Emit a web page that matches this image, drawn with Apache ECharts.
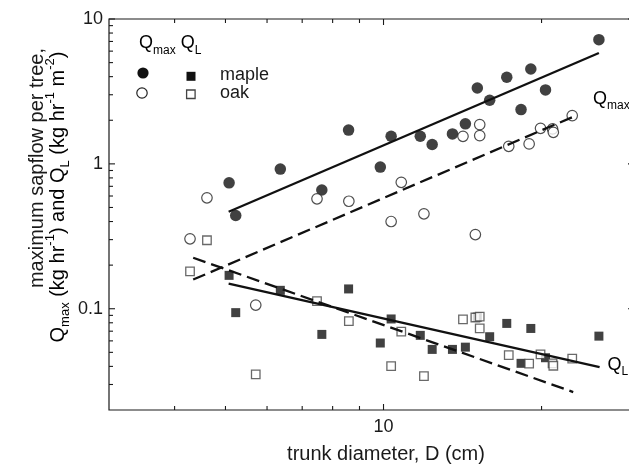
<!DOCTYPE html>
<html><head><meta charset="utf-8">
<script src="https://cdn.jsdelivr.net/npm/echarts@6/dist/echarts.min.js"></script>
<style>html,body{margin:0;padding:0;background:#fff}#c{width:629px;height:468px}</style>
</head><body><div id="c"></div>
<script>
// ---- data ----
const mapleD    = [5.08, 5.23, 6.36, 7.63, 8.58, 9.86, 10.34, 11.75, 12.38, 13.53, 14.32, 15.09, 15.93, 17.17, 18.28, 19.08, 20.35, 25.72];
const mapleQmax = [0.74, 0.44, 0.92, 0.66, 1.71, 0.95, 1.55, 1.55, 1.36, 1.61, 1.89, 3.34, 2.75, 3.96, 2.37, 4.52, 3.24, 7.2];
const mapleQL   = [0.170, 0.094, 0.134, 0.0665, 0.137, 0.058, 0.085, 0.0655, 0.0524, 0.0524, 0.0543, 0.0875, 0.0641, 0.0792, 0.042, 0.0731, 0.0459, 0.0647];
const oakD      = [4.28, 4.61, 5.71, 7.47, 8.59, 10.34, 10.81, 11.94, 14.17, 14.96, 15.25, 15.25, 17.32, 18.94, 19.91, 20.99, 21.06, 22.88];
const oakQmax   = [0.304, 0.583, 0.106, 0.574, 0.552, 0.40, 0.746, 0.452, 1.55, 0.325, 1.866, 1.567, 1.322, 1.374, 1.76, 1.743, 1.652, 2.153];
const oakQL     = [0.181, 0.297, 0.0352, 0.1128, 0.0821, 0.0402, 0.0694, 0.0343, 0.0844, 0.087, 0.0881, 0.0731, 0.0479, 0.0418, 0.0484, 0.042, 0.0404, 0.0452];
// regression line end points [D, Q]
const mapleQmaxFit = [[5.07, 0.467], [25.72, 5.83]];
const oakQmaxFit   = [[4.34, 0.159], [22.88, 2.1]];
const mapleQLFit   = [[5.07, 0.149], [25.8, 0.0396]];
const oakQLFit     = [[4.34, 0.225], [22.98, 0.0266]];
// axes
const xRange = [3, 30];
const yRange = [0.02, 10];
const xLabelValues = [10];
const yLabelValues = [0.1, 1, 10];
const xMajorTicks = [10];
const xMinorTicks = [4, 5, 6, 7, 8, 9, 20];
const yMajorTicks = [0.1, 1, 10];
const yMinorTicks = [0.03, 0.04, 0.05, 0.06, 0.07, 0.08, 0.09, 0.2, 0.3, 0.4, 0.5, 0.6, 0.7, 0.8, 0.9, 2, 3, 4, 5, 6, 7, 8, 9];

const FONT = 'Liberation Sans, Arial, sans-serif';
const INK = '#1a1a1a';

function zip(a, b) { return a.map((v, i) => [v, b[i]]); }
function isIn(v, list) { return list.some(t => Math.abs(Math.log10(v) - Math.log10(t)) < 1e-6); }

// tick marks: [x, y, dir(0 up,1 down,2 right,3 left), length]
const tickData = [];
xMajorTicks.forEach(v => { tickData.push([v, yRange[0], 0, 6]); tickData.push([v, yRange[1], 1, 6]); });
xMinorTicks.forEach(v => { tickData.push([v, yRange[0], 0, 4]); tickData.push([v, yRange[1], 1, 4]); });
yMajorTicks.forEach(v => { tickData.push([xRange[0], v, 2, 6]); tickData.push([xRange[1], v, 3, 6]); });
yMinorTicks.forEach(v => { tickData.push([xRange[0], v, 2, 4]); tickData.push([xRange[1], v, 3, 4]); });

const chart = echarts.init(document.getElementById('c'), null, { renderer: 'canvas' });

const subRich = {
  q: { fontSize: 18, fontFamily: FONT, color: INK, lineHeight: 26 },
  s: { fontSize: 12, fontFamily: FONT, color: INK, lineHeight: 12, verticalAlign: 'bottom' }
};
const titleRich = {
  b: { fontSize: 20, fontFamily: FONT, color: INK, lineHeight: 28 },
  sub: { fontSize: 13, fontFamily: FONT, color: INK, lineHeight: 13, verticalAlign: 'bottom' },
  sup: { fontSize: 13, fontFamily: FONT, color: INK, lineHeight: 13, verticalAlign: 'top' }
};

const option = {
  backgroundColor: '#fff',
  animation: false,
  grid: { left: 109, top: 19, right: -5, bottom: 58, show: true, borderColor: INK, borderWidth: 1.2, backgroundColor: 'transparent', outerBoundsMode: 'none', containLabel: false },
  xAxis: {
    type: 'log', logBase: 10, min: xRange[0], max: xRange[1],
    axisLine: { show: false }, axisTick: { show: false }, splitLine: { show: false }, minorTick: { show: false },
    axisLabel: { fontSize: 18, fontFamily: FONT, color: INK, margin: 8, formatter: v => isIn(v, xLabelValues) ? String(Math.round(v)) : '' },
    name: 'trunk diameter, D (cm)', nameLocation: 'middle', nameGap: 34,
    nameTextStyle: { fontSize: 20, fontFamily: FONT, color: INK, padding: [0, 0, 0, 29] }
  },
  yAxis: {
    type: 'log', logBase: 10, min: yRange[0], max: yRange[1],
    axisLine: { show: false }, axisTick: { show: false }, splitLine: { show: false }, minorTick: { show: false },
    axisLabel: { fontSize: 18, fontFamily: FONT, color: INK, margin: 6, formatter: v => isIn(v, yLabelValues) ? String(+v.toPrecision(3)) : '' }
  },
  series: [
    { name: 'maple Qmax', type: 'scatter', data: zip(mapleD, mapleQmax), symbol: 'circle', symbolSize: 11.5, itemStyle: { color: '#111' }, z: 3 },
    { name: 'oak Qmax', type: 'scatter', data: zip(oakD, oakQmax), symbol: 'circle', symbolSize: 10.5, itemStyle: { color: '#fff', borderColor: '#222', borderWidth: 1.2 }, z: 3 },
    { name: 'maple QL', type: 'scatter', data: zip(mapleD, mapleQL), symbol: 'rect', symbolSize: 9, itemStyle: { color: '#111' }, z: 3 },
    { name: 'oak QL', type: 'scatter', data: zip(oakD, oakQL), symbol: 'rect', symbolSize: 8.5, itemStyle: { color: '#fff', borderColor: '#444', borderWidth: 1.3 }, z: 4 },
    { name: 'maple Qmax fit', type: 'line', data: mapleQmaxFit, symbol: 'none', lineStyle: { color: '#111', width: 2.3 }, z: 5 },
    { name: 'oak Qmax fit', type: 'line', data: oakQmaxFit, symbol: 'none', lineStyle: { color: '#111', width: 2.3, type: [13, 6] }, z: 5 },
    { name: 'maple QL fit', type: 'line', data: mapleQLFit, symbol: 'none', lineStyle: { color: '#111', width: 2.3 }, z: 5 },
    { name: 'oak QL fit', type: 'line', data: oakQLFit, symbol: 'none', lineStyle: { color: '#111', width: 2.3, type: [13, 6] }, z: 5 },
    {
      name: 'ticks', type: 'custom', data: tickData, silent: true, clip: false, z: 6,
      encode: { x: 0, y: 1 },
      renderItem: function (params, api) {
        const p = api.coord([api.value(0), api.value(1)]);
        const d = api.value(2), len = api.value(3);
        let x2 = p[0], y2 = p[1];
        if (d === 0) y2 -= len; else if (d === 1) y2 += len; else if (d === 2) x2 += len; else x2 -= len;
        return { type: 'line', shape: { x1: p[0], y1: p[1], x2: x2, y2: y2 }, style: { stroke: INK, lineWidth: 1.1 } };
      }
    }
  ],
  graphic: [
    // y axis title (two lines, rotated)
    { type: 'text', x: 37, y: 168, rotation: Math.PI / 2, style: { text: 'maximum sapflow per tree,', font: '20px ' + FONT, fill: INK, align: 'center', verticalAlign: 'middle' } },
    { type: 'text', x: 58, y: 197, rotation: Math.PI / 2, style: { text: '{b|Q}{sub|max}{b| (kg hr}{sup|-1}{b|) and Q}{sub|L}{b| (kg hr}{sup|-1}{b| m}{sup|-2}{b|)}', rich: titleRich, align: 'center', verticalAlign: 'middle' } },
    // legend
    { type: 'text', x: 139, y: 43.5, style: { text: '{q|Q}{s|max}{q| Q}{s|L}', rich: subRich, verticalAlign: 'middle', align: 'left' } },
    { type: 'circle', shape: { cx: 143, cy: 73, r: 5.6 }, style: { fill: '#111' } },
    { type: 'circle', shape: { cx: 142, cy: 93, r: 5.2 }, style: { fill: '#fff', stroke: '#222', lineWidth: 1.2 } },
    { type: 'rect', shape: { x: 186.5, y: 71.8, width: 9, height: 9 }, style: { fill: '#111' } },
    { type: 'rect', shape: { x: 186.6, y: 90, width: 8.5, height: 8.5 }, style: { fill: '#fff', stroke: '#444', lineWidth: 1.3 } },
    { type: 'text', x: 220, y: 75, style: { text: 'maple', font: '18px ' + FONT, fill: INK, verticalAlign: 'middle', align: 'left' } },
    { type: 'text', x: 220, y: 93.5, style: { text: 'oak', font: '18px ' + FONT, fill: INK, verticalAlign: 'middle', align: 'left' } },
    // line annotations
    { type: 'text', x: 593, y: 99, style: { text: '{q|Q}{s|max}', rich: subRich, verticalAlign: 'middle', align: 'left' } },
    { type: 'text', x: 607.5, y: 365, style: { text: '{q|Q}{s|L}', rich: subRich, verticalAlign: 'middle', align: 'left' } }
  ]
};
chart.setOption(option);
</script>
</body></html>
